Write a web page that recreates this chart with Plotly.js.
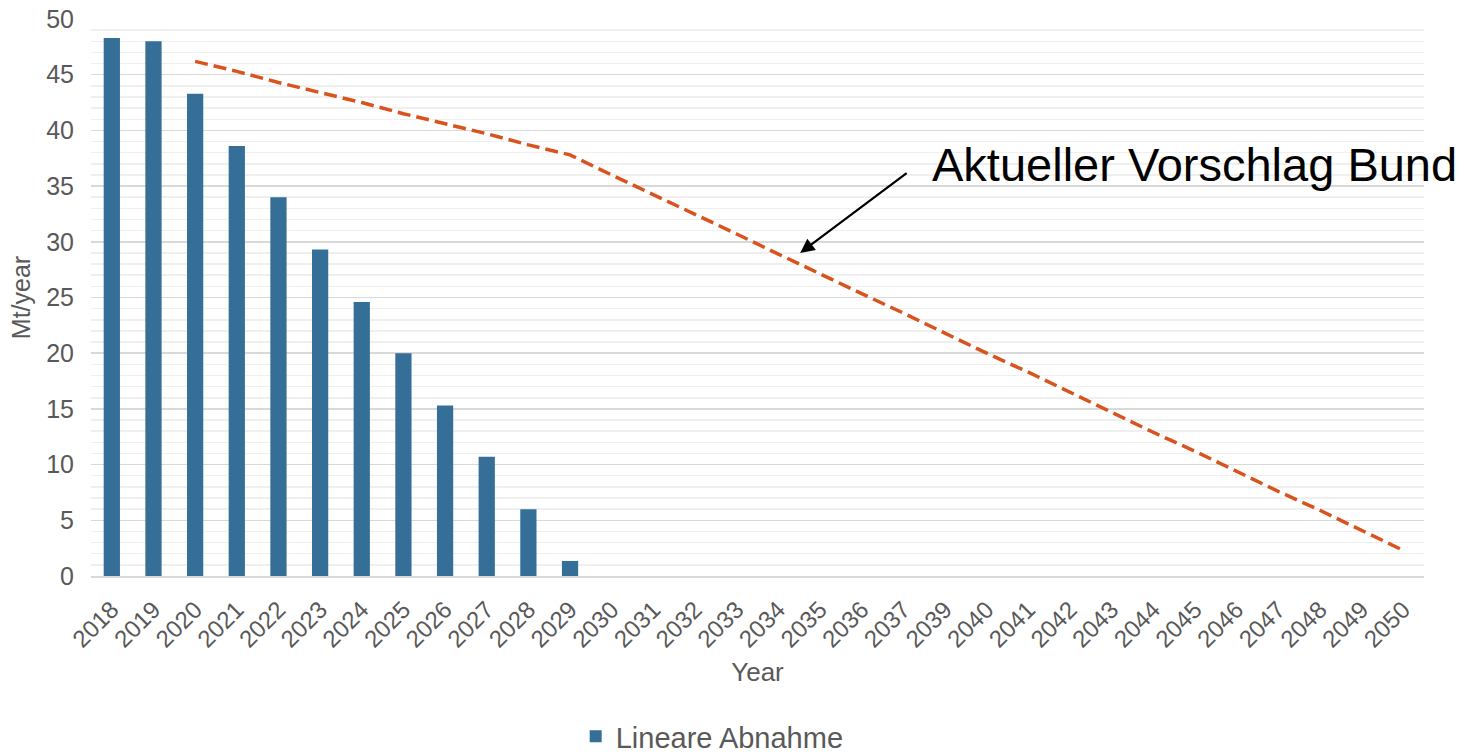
<!DOCTYPE html>
<html>
<head>
<meta charset="utf-8">
<script src="https://cdn.plot.ly/plotly-3.0.1.min.js"></script>
<style>html,body{margin:0;padding:0;background:#fff;}#chart{width:1466px;height:756px;}</style>
</head>
<body>
<div id="chart"></div>
<script>
var years = ["2018","2019","2020","2021","2022","2023","2024","2025","2026","2027","2028","2029","2030","2031","2032","2033","2034","2035","2036","2037","2039","2040","2041","2042","2043","2044","2045","2046","2047","2048","2049","2050"];
var linearDecrease = [48.3,48.0,43.3,38.6,34.0,29.3,24.6,20.0,15.3,10.7,6.0,1.35,null,null,null,null,null,null,null,null,null,null,null,null,null,null,null,null,null,null,null,null];
var proposalBund = [null,null,46.2,45.3,44.3,43.4,42.5,41.5,40.6,39.7,38.7,37.8,36.0,34.25,32.5,30.7,28.9,27.1,25.35,23.6,21.8,20.0,18.3,16.5,14.7,12.9,11.2,9.4,7.6,5.9,4.1,2.3];
var seriesNames = ["Lineare Abnahme", "Aktueller Vorschlag Bund"];

var grey = "#595959";
var traces = [
  {type:"bar", x:years, y:linearDecrease, name:seriesNames[0], marker:{color:"#356f97"}, width:0.39},
  {type:"scatter", mode:"lines", x:years, y:proposalBund, name:seriesNames[1], showlegend:false,
   line:{color:"#d9531e", width:3.5, dash:"13px,6px"}, connectgaps:false}
];
var layout = {
  width:1466, height:756,
  margin:{l:91, r:42, t:19, b:180, autoexpand:false},
  paper_bgcolor:"#fff", plot_bgcolor:"#fff",
  font:{family:"Liberation Sans, Arial, sans-serif", color:grey, size:24},
  showlegend:true,
  legend:{orientation:"h", x:0.466, xanchor:"center", y:-0.288, yanchor:"middle", font:{size:29, color:grey}},
  xaxis:{type:"category", tickangle:-45, tickfont:{size:24, color:grey}, showgrid:false, automargin:false,
         showline:true, linecolor:"#d9d9d9", linewidth:2, ticks:"", ticklabelstandoff:8,
         title:{text:"Year", font:{size:26, color:grey}, standoff:11}, range:[-0.5,31.5]},
  yaxis:{range:[0,50], dtick:5, tickfont:{size:25, color:grey}, showgrid:true, gridcolor:"#d9d9d9", gridwidth:1.5,
         zeroline:false, ticks:"", ticklabelstandoff:16, automargin:false,
         minor:{dtick:1, showgrid:true, gridcolor:"#efefef", gridwidth:1.5},
         title:{text:"Mt/year", font:{size:25, color:grey}, standoff:8}},
  annotations:[
    {xref:"paper", yref:"paper", x:0.8275, y:0.738, xanchor:"center", yanchor:"middle", text:"Aktueller Vorschlag Bund", showarrow:false,
     font:{size:47, color:"#000", family:"Liberation Sans, Arial, sans-serif"}},
    {xref:"paper", yref:"paper", x:0.532, y:0.580, text:"", showarrow:true, ax:108, ay:-81,
     arrowhead:2, arrowsize:1.3, arrowwidth:2.2, arrowcolor:"#000"}
  ]
};
Plotly.newPlot("chart", traces, layout, {displayModeBar:false, staticPlot:true});
</script>
</body>
</html>
